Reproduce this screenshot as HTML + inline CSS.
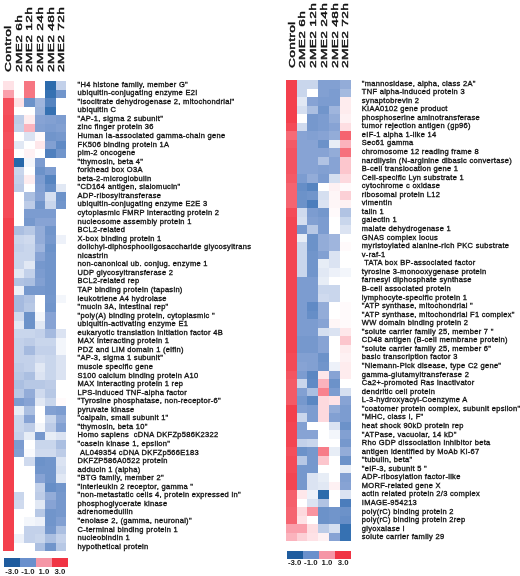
<!DOCTYPE html>
<html><head><meta charset="utf-8"><title>Heatmap</title><style>
html,body{margin:0;padding:0;background:#fff;}
body{width:520px;height:576px;position:relative;overflow:hidden;font-family:"Liberation Sans",Arial,sans-serif;color:#1a1a1a;}
.hd{position:absolute;white-space:nowrap;font-size:9.5px;letter-spacing:0.2px;-webkit-text-stroke:0.4px #111;color:#111;line-height:1;transform-origin:0 0;transform:rotate(-90deg) scaleX(1.45) translateY(-50%);}
.hm{position:absolute;display:block;filter:blur(0.5px);}
.lb{position:absolute;white-space:nowrap;font-weight:normal;font-size:7.5px;letter-spacing:0.3px;line-height:8.55px;color:#111;-webkit-text-stroke:0.33px #111;}
.lg{position:absolute;}
.lt{position:absolute;white-space:nowrap;font-weight:bold;font-size:7.8px;line-height:1;transform:translateX(-50%);}
</style></head>
<body>
<div class="hd" style="left:8.29px;top:71.60px">Control</div>
<div class="hd" style="left:18.86px;top:71.60px">2ME2 6h</div>
<div class="hd" style="left:29.43px;top:71.60px">2ME2 12h</div>
<div class="hd" style="left:40.00px;top:71.60px">2ME2 24h</div>
<div class="hd" style="left:50.56px;top:71.60px">2ME2 48h</div>
<div class="hd" style="left:61.14px;top:71.60px">2ME2 72h</div>
<svg class="hm" style="left:3.0px;top:80.7px" width="63.42" height="470.52" viewBox="0 0 63.42 470.52" shape-rendering="crispEdges"><rect x="0.00" y="0.00" width="10.87" height="8.86" fill="#fee2e6"/><rect x="10.57" y="0.00" width="10.87" height="8.86" fill="#ffffff"/><rect x="21.14" y="0.00" width="10.87" height="8.86" fill="#f67682"/><rect x="31.71" y="0.00" width="10.87" height="8.86" fill="#ffffff"/><rect x="42.28" y="0.00" width="10.87" height="8.86" fill="#2c6bac"/><rect x="52.85" y="0.00" width="10.87" height="8.86" fill="#c3d1ea"/><rect x="0.00" y="8.55" width="10.87" height="8.86" fill="#faa0ac"/><rect x="10.57" y="8.55" width="10.87" height="8.86" fill="#ffffff"/><rect x="21.14" y="8.55" width="10.87" height="8.86" fill="#f67682"/><rect x="31.71" y="8.55" width="10.87" height="8.86" fill="#ffffff"/><rect x="42.28" y="8.55" width="10.87" height="8.86" fill="#3671b2"/><rect x="52.85" y="8.55" width="10.87" height="8.86" fill="#7195cb"/><rect x="0.00" y="17.11" width="10.87" height="8.86" fill="#f44f5c"/><rect x="10.57" y="17.11" width="10.87" height="8.86" fill="#fee2e6"/><rect x="21.14" y="17.11" width="10.87" height="8.86" fill="#6c92c9"/><rect x="31.71" y="17.11" width="10.87" height="8.86" fill="#9fb5dd"/><rect x="42.28" y="17.11" width="10.87" height="8.86" fill="#5684c0"/><rect x="52.85" y="17.11" width="10.87" height="8.86" fill="#ffffff"/><rect x="0.00" y="25.66" width="10.87" height="8.86" fill="#f44f5c"/><rect x="10.57" y="25.66" width="10.87" height="8.86" fill="#ffffff"/><rect x="21.14" y="25.66" width="10.87" height="8.86" fill="#ffffff"/><rect x="31.71" y="25.66" width="10.87" height="8.86" fill="#99b1da"/><rect x="42.28" y="25.66" width="10.87" height="8.86" fill="#3671b2"/><rect x="52.85" y="25.66" width="10.87" height="8.86" fill="#ffffff"/><rect x="0.00" y="34.22" width="10.87" height="8.86" fill="#f44a57"/><rect x="10.57" y="34.22" width="10.87" height="8.86" fill="#bdcce7"/><rect x="21.14" y="34.22" width="10.87" height="8.86" fill="#feecee"/><rect x="31.71" y="34.22" width="10.87" height="8.86" fill="#87a3d4"/><rect x="42.28" y="34.22" width="10.87" height="8.86" fill="#82a0d2"/><rect x="52.85" y="34.22" width="10.87" height="8.86" fill="#7c9cd0"/><rect x="0.00" y="42.77" width="10.87" height="8.86" fill="#f44a57"/><rect x="10.57" y="42.77" width="10.87" height="8.86" fill="#c3d1ea"/><rect x="21.14" y="42.77" width="10.87" height="8.86" fill="#fbb3bd"/><rect x="31.71" y="42.77" width="10.87" height="8.86" fill="#82a0d2"/><rect x="42.28" y="42.77" width="10.87" height="8.86" fill="#7c9cd0"/><rect x="52.85" y="42.77" width="10.87" height="8.86" fill="#82a0d2"/><rect x="0.00" y="51.33" width="10.87" height="8.86" fill="#f44f5c"/><rect x="10.57" y="51.33" width="10.87" height="8.86" fill="#ffffff"/><rect x="21.14" y="51.33" width="10.87" height="8.86" fill="#dbe3f2"/><rect x="31.71" y="51.33" width="10.87" height="8.86" fill="#fffafb"/><rect x="42.28" y="51.33" width="10.87" height="8.86" fill="#7195cb"/><rect x="52.85" y="51.33" width="10.87" height="8.86" fill="#7698cd"/><rect x="0.00" y="59.88" width="10.87" height="8.86" fill="#f44f5c"/><rect x="10.57" y="59.88" width="10.87" height="8.86" fill="#e1e8f4"/><rect x="21.14" y="59.88" width="10.87" height="8.86" fill="#ffffff"/><rect x="31.71" y="59.88" width="10.87" height="8.86" fill="#fee7ea"/><rect x="42.28" y="59.88" width="10.87" height="8.86" fill="#82a0d2"/><rect x="52.85" y="59.88" width="10.87" height="8.86" fill="#608ac5"/><rect x="0.00" y="68.44" width="10.87" height="8.86" fill="#f44a57"/><rect x="10.57" y="68.44" width="10.87" height="8.86" fill="#ffffff"/><rect x="21.14" y="68.44" width="10.87" height="8.86" fill="#fef1f3"/><rect x="31.71" y="68.44" width="10.87" height="8.86" fill="#ffffff"/><rect x="42.28" y="68.44" width="10.87" height="8.86" fill="#5080be"/><rect x="52.85" y="68.44" width="10.87" height="8.86" fill="#7195cb"/><rect x="0.00" y="77.00" width="10.87" height="8.86" fill="#f44a57"/><rect x="10.57" y="77.00" width="10.87" height="8.86" fill="#2668aa"/><rect x="21.14" y="77.00" width="10.87" height="8.86" fill="#f3f6fb"/><rect x="31.71" y="77.00" width="10.87" height="8.86" fill="#7c9cd0"/><rect x="42.28" y="77.00" width="10.87" height="8.86" fill="#ffffff"/><rect x="52.85" y="77.00" width="10.87" height="8.86" fill="#ffffff"/><rect x="0.00" y="85.55" width="10.87" height="8.86" fill="#f44a57"/><rect x="10.57" y="85.55" width="10.87" height="8.86" fill="#c9d6ec"/><rect x="21.14" y="85.55" width="10.87" height="8.86" fill="#ffffff"/><rect x="31.71" y="85.55" width="10.87" height="8.86" fill="#6c92c9"/><rect x="42.28" y="85.55" width="10.87" height="8.86" fill="#7c9cd0"/><rect x="52.85" y="85.55" width="10.87" height="8.86" fill="#ffffff"/><rect x="0.00" y="94.10" width="10.87" height="8.86" fill="#f44a57"/><rect x="10.57" y="94.10" width="10.87" height="8.86" fill="#c3d1ea"/><rect x="21.14" y="94.10" width="10.87" height="8.86" fill="#feecee"/><rect x="31.71" y="94.10" width="10.87" height="8.86" fill="#7c9cd0"/><rect x="42.28" y="94.10" width="10.87" height="8.86" fill="#5684c0"/><rect x="52.85" y="94.10" width="10.87" height="8.86" fill="#ffffff"/><rect x="0.00" y="102.66" width="10.87" height="8.86" fill="#f44a57"/><rect x="10.57" y="102.66" width="10.87" height="8.86" fill="#bdcce7"/><rect x="21.14" y="102.66" width="10.87" height="8.86" fill="#ffffff"/><rect x="31.71" y="102.66" width="10.87" height="8.86" fill="#82a0d2"/><rect x="42.28" y="102.66" width="10.87" height="8.86" fill="#668ec7"/><rect x="52.85" y="102.66" width="10.87" height="8.86" fill="#e1e8f4"/><rect x="0.00" y="111.22" width="10.87" height="8.86" fill="#f44a57"/><rect x="10.57" y="111.22" width="10.87" height="8.86" fill="#ffffff"/><rect x="21.14" y="111.22" width="10.87" height="8.86" fill="#abbfe1"/><rect x="31.71" y="111.22" width="10.87" height="8.86" fill="#87a3d4"/><rect x="42.28" y="111.22" width="10.87" height="8.86" fill="#d5dff0"/><rect x="52.85" y="111.22" width="10.87" height="8.86" fill="#6c92c9"/><rect x="0.00" y="119.77" width="10.87" height="8.86" fill="#f44a57"/><rect x="10.57" y="119.77" width="10.87" height="8.86" fill="#ffffff"/><rect x="21.14" y="119.77" width="10.87" height="8.86" fill="#bdcce7"/><rect x="31.71" y="119.77" width="10.87" height="8.86" fill="#7195cb"/><rect x="42.28" y="119.77" width="10.87" height="8.86" fill="#c9d6ec"/><rect x="52.85" y="119.77" width="10.87" height="8.86" fill="#7195cb"/><rect x="0.00" y="128.32" width="10.87" height="8.86" fill="#f44a57"/><rect x="10.57" y="128.32" width="10.87" height="8.86" fill="#ffffff"/><rect x="21.14" y="128.32" width="10.87" height="8.86" fill="#7c9cd0"/><rect x="31.71" y="128.32" width="10.87" height="8.86" fill="#7c9cd0"/><rect x="42.28" y="128.32" width="10.87" height="8.86" fill="#7c9cd0"/><rect x="52.85" y="128.32" width="10.87" height="8.86" fill="#ffffff"/><rect x="0.00" y="136.88" width="10.87" height="8.86" fill="#f3404d"/><rect x="10.57" y="136.88" width="10.87" height="8.86" fill="#ffffff"/><rect x="21.14" y="136.88" width="10.87" height="8.86" fill="#7698cd"/><rect x="31.71" y="136.88" width="10.87" height="8.86" fill="#87a3d4"/><rect x="42.28" y="136.88" width="10.87" height="8.86" fill="#87a3d4"/><rect x="52.85" y="136.88" width="10.87" height="8.86" fill="#ffffff"/><rect x="0.00" y="145.44" width="10.87" height="8.86" fill="#f3404d"/><rect x="10.57" y="145.44" width="10.87" height="8.86" fill="#abbfe1"/><rect x="21.14" y="145.44" width="10.87" height="8.86" fill="#b7c8e5"/><rect x="31.71" y="145.44" width="10.87" height="8.86" fill="#93acd8"/><rect x="42.28" y="145.44" width="10.87" height="8.86" fill="#7195cb"/><rect x="52.85" y="145.44" width="10.87" height="8.86" fill="#ffffff"/><rect x="0.00" y="153.99" width="10.87" height="8.86" fill="#f3404d"/><rect x="10.57" y="153.99" width="10.87" height="8.86" fill="#c9d6ec"/><rect x="21.14" y="153.99" width="10.87" height="8.86" fill="#cfdaee"/><rect x="31.71" y="153.99" width="10.87" height="8.86" fill="#93acd8"/><rect x="42.28" y="153.99" width="10.87" height="8.86" fill="#7698cd"/><rect x="52.85" y="153.99" width="10.87" height="8.86" fill="#edf1f9"/><rect x="0.00" y="162.54" width="10.87" height="8.86" fill="#f3404d"/><rect x="10.57" y="162.54" width="10.87" height="8.86" fill="#c3d1ea"/><rect x="21.14" y="162.54" width="10.87" height="8.86" fill="#c9d6ec"/><rect x="31.71" y="162.54" width="10.87" height="8.86" fill="#9fb5dd"/><rect x="42.28" y="162.54" width="10.87" height="8.86" fill="#6c92c9"/><rect x="52.85" y="162.54" width="10.87" height="8.86" fill="#ffffff"/><rect x="0.00" y="171.10" width="10.87" height="8.86" fill="#f3404d"/><rect x="10.57" y="171.10" width="10.87" height="8.86" fill="#c9d6ec"/><rect x="21.14" y="171.10" width="10.87" height="8.86" fill="#c9d6ec"/><rect x="31.71" y="171.10" width="10.87" height="8.86" fill="#87a3d4"/><rect x="42.28" y="171.10" width="10.87" height="8.86" fill="#7195cb"/><rect x="52.85" y="171.10" width="10.87" height="8.86" fill="#ffffff"/><rect x="0.00" y="179.66" width="10.87" height="8.86" fill="#f3404d"/><rect x="10.57" y="179.66" width="10.87" height="8.86" fill="#c9d6ec"/><rect x="21.14" y="179.66" width="10.87" height="8.86" fill="#e1e8f4"/><rect x="31.71" y="179.66" width="10.87" height="8.86" fill="#7698cd"/><rect x="42.28" y="179.66" width="10.87" height="8.86" fill="#7195cb"/><rect x="52.85" y="179.66" width="10.87" height="8.86" fill="#ffffff"/><rect x="0.00" y="188.21" width="10.87" height="8.86" fill="#f3404d"/><rect x="10.57" y="188.21" width="10.87" height="8.86" fill="#e1e8f4"/><rect x="21.14" y="188.21" width="10.87" height="8.86" fill="#c3d1ea"/><rect x="31.71" y="188.21" width="10.87" height="8.86" fill="#7c9cd0"/><rect x="42.28" y="188.21" width="10.87" height="8.86" fill="#7195cb"/><rect x="52.85" y="188.21" width="10.87" height="8.86" fill="#ffffff"/><rect x="0.00" y="196.76" width="10.87" height="8.86" fill="#f3404d"/><rect x="10.57" y="196.76" width="10.87" height="8.86" fill="#b1c3e3"/><rect x="21.14" y="196.76" width="10.87" height="8.86" fill="#abbfe1"/><rect x="31.71" y="196.76" width="10.87" height="8.86" fill="#82a0d2"/><rect x="42.28" y="196.76" width="10.87" height="8.86" fill="#7195cb"/><rect x="52.85" y="196.76" width="10.87" height="8.86" fill="#ffffff"/><rect x="0.00" y="205.32" width="10.87" height="8.86" fill="#f3404d"/><rect x="10.57" y="205.32" width="10.87" height="8.86" fill="#edf1f9"/><rect x="21.14" y="205.32" width="10.87" height="8.86" fill="#7698cd"/><rect x="31.71" y="205.32" width="10.87" height="8.86" fill="#7698cd"/><rect x="42.28" y="205.32" width="10.87" height="8.86" fill="#7195cb"/><rect x="52.85" y="205.32" width="10.87" height="8.86" fill="#ffffff"/><rect x="0.00" y="213.88" width="10.87" height="8.86" fill="#f3404d"/><rect x="10.57" y="213.88" width="10.87" height="8.86" fill="#a5badf"/><rect x="21.14" y="213.88" width="10.87" height="8.86" fill="#b1c3e3"/><rect x="31.71" y="213.88" width="10.87" height="8.86" fill="#ffffff"/><rect x="42.28" y="213.88" width="10.87" height="8.86" fill="#7497cc"/><rect x="52.85" y="213.88" width="10.87" height="8.86" fill="#f3f6fb"/><rect x="0.00" y="222.43" width="10.87" height="8.86" fill="#f3404d"/><rect x="10.57" y="222.43" width="10.87" height="8.86" fill="#a5badf"/><rect x="21.14" y="222.43" width="10.87" height="8.86" fill="#b7c8e5"/><rect x="31.71" y="222.43" width="10.87" height="8.86" fill="#ffffff"/><rect x="42.28" y="222.43" width="10.87" height="8.86" fill="#7195cb"/><rect x="52.85" y="222.43" width="10.87" height="8.86" fill="#ffffff"/><rect x="0.00" y="230.98" width="10.87" height="8.86" fill="#f3404d"/><rect x="10.57" y="230.98" width="10.87" height="8.86" fill="#cfdaee"/><rect x="21.14" y="230.98" width="10.87" height="8.86" fill="#6c92c9"/><rect x="31.71" y="230.98" width="10.87" height="8.86" fill="#f3f6fb"/><rect x="42.28" y="230.98" width="10.87" height="8.86" fill="#87a3d4"/><rect x="52.85" y="230.98" width="10.87" height="8.86" fill="#ffffff"/><rect x="0.00" y="239.54" width="10.87" height="8.86" fill="#f3404d"/><rect x="10.57" y="239.54" width="10.87" height="8.86" fill="#e1e8f4"/><rect x="21.14" y="239.54" width="10.87" height="8.86" fill="#6c92c9"/><rect x="31.71" y="239.54" width="10.87" height="8.86" fill="#e1e8f4"/><rect x="42.28" y="239.54" width="10.87" height="8.86" fill="#87a3d4"/><rect x="52.85" y="239.54" width="10.87" height="8.86" fill="#ffffff"/><rect x="0.00" y="248.09" width="10.87" height="8.86" fill="#f3404d"/><rect x="10.57" y="248.09" width="10.87" height="8.86" fill="#c9d6ec"/><rect x="21.14" y="248.09" width="10.87" height="8.86" fill="#c9d6ec"/><rect x="31.71" y="248.09" width="10.87" height="8.86" fill="#c3d1ea"/><rect x="42.28" y="248.09" width="10.87" height="8.86" fill="#a5badf"/><rect x="52.85" y="248.09" width="10.87" height="8.86" fill="#dbe3f2"/><rect x="0.00" y="256.65" width="10.87" height="8.86" fill="#f3404d"/><rect x="10.57" y="256.65" width="10.87" height="8.86" fill="#c3d1ea"/><rect x="21.14" y="256.65" width="10.87" height="8.86" fill="#bdcce7"/><rect x="31.71" y="256.65" width="10.87" height="8.86" fill="#c9d6ec"/><rect x="42.28" y="256.65" width="10.87" height="8.86" fill="#c9d6ec"/><rect x="52.85" y="256.65" width="10.87" height="8.86" fill="#f3f6fb"/><rect x="0.00" y="265.20" width="10.87" height="8.86" fill="#f3404d"/><rect x="10.57" y="265.20" width="10.87" height="8.86" fill="#c3d1ea"/><rect x="21.14" y="265.20" width="10.87" height="8.86" fill="#a5badf"/><rect x="31.71" y="265.20" width="10.87" height="8.86" fill="#c3d1ea"/><rect x="42.28" y="265.20" width="10.87" height="8.86" fill="#c3d1ea"/><rect x="52.85" y="265.20" width="10.87" height="8.86" fill="#f3f6fb"/><rect x="0.00" y="273.76" width="10.87" height="8.86" fill="#f3404d"/><rect x="10.57" y="273.76" width="10.87" height="8.86" fill="#c3d1ea"/><rect x="21.14" y="273.76" width="10.87" height="8.86" fill="#c3d1ea"/><rect x="31.71" y="273.76" width="10.87" height="8.86" fill="#cfdaee"/><rect x="42.28" y="273.76" width="10.87" height="8.86" fill="#c9d6ec"/><rect x="52.85" y="273.76" width="10.87" height="8.86" fill="#dbe3f2"/><rect x="0.00" y="282.31" width="10.87" height="8.86" fill="#f3404d"/><rect x="10.57" y="282.31" width="10.87" height="8.86" fill="#bdcce7"/><rect x="21.14" y="282.31" width="10.87" height="8.86" fill="#c3d1ea"/><rect x="31.71" y="282.31" width="10.87" height="8.86" fill="#e1e8f4"/><rect x="42.28" y="282.31" width="10.87" height="8.86" fill="#c9d6ec"/><rect x="52.85" y="282.31" width="10.87" height="8.86" fill="#dbe3f2"/><rect x="0.00" y="290.87" width="10.87" height="8.86" fill="#f3404d"/><rect x="10.57" y="290.87" width="10.87" height="8.86" fill="#b7c8e5"/><rect x="21.14" y="290.87" width="10.87" height="8.86" fill="#abbfe1"/><rect x="31.71" y="290.87" width="10.87" height="8.86" fill="#dbe3f2"/><rect x="42.28" y="290.87" width="10.87" height="8.86" fill="#c9d6ec"/><rect x="52.85" y="290.87" width="10.87" height="8.86" fill="#dbe3f2"/><rect x="0.00" y="299.43" width="10.87" height="8.86" fill="#f3404d"/><rect x="10.57" y="299.43" width="10.87" height="8.86" fill="#abbfe1"/><rect x="21.14" y="299.43" width="10.87" height="8.86" fill="#b7c8e5"/><rect x="31.71" y="299.43" width="10.87" height="8.86" fill="#b7c8e5"/><rect x="42.28" y="299.43" width="10.87" height="8.86" fill="#bdcce7"/><rect x="52.85" y="299.43" width="10.87" height="8.86" fill="#ffffff"/><rect x="0.00" y="307.98" width="10.87" height="8.86" fill="#f3404d"/><rect x="10.57" y="307.98" width="10.87" height="8.86" fill="#b7c8e5"/><rect x="21.14" y="307.98" width="10.87" height="8.86" fill="#93acd8"/><rect x="31.71" y="307.98" width="10.87" height="8.86" fill="#cfdaee"/><rect x="42.28" y="307.98" width="10.87" height="8.86" fill="#b7c8e5"/><rect x="52.85" y="307.98" width="10.87" height="8.86" fill="#ffffff"/><rect x="0.00" y="316.53" width="10.87" height="8.86" fill="#f3404d"/><rect x="10.57" y="316.53" width="10.87" height="8.86" fill="#7c9cd0"/><rect x="21.14" y="316.53" width="10.87" height="8.86" fill="#87a3d4"/><rect x="31.71" y="316.53" width="10.87" height="8.86" fill="#e1e8f4"/><rect x="42.28" y="316.53" width="10.87" height="8.86" fill="#c9d6ec"/><rect x="52.85" y="316.53" width="10.87" height="8.86" fill="#fffafb"/><rect x="0.00" y="325.09" width="10.87" height="8.86" fill="#f3404d"/><rect x="10.57" y="325.09" width="10.87" height="8.86" fill="#e7edf6"/><rect x="21.14" y="325.09" width="10.87" height="8.86" fill="#abbfe1"/><rect x="31.71" y="325.09" width="10.87" height="8.86" fill="#ffffff"/><rect x="42.28" y="325.09" width="10.87" height="8.86" fill="#82a0d2"/><rect x="52.85" y="325.09" width="10.87" height="8.86" fill="#7c9cd0"/><rect x="0.00" y="333.64" width="10.87" height="8.86" fill="#f3404d"/><rect x="10.57" y="333.64" width="10.87" height="8.86" fill="#c9d6ec"/><rect x="21.14" y="333.64" width="10.87" height="8.86" fill="#87a3d4"/><rect x="31.71" y="333.64" width="10.87" height="8.86" fill="#ffffff"/><rect x="42.28" y="333.64" width="10.87" height="8.86" fill="#c9d6ec"/><rect x="52.85" y="333.64" width="10.87" height="8.86" fill="#93acd8"/><rect x="0.00" y="342.20" width="10.87" height="8.86" fill="#f3404d"/><rect x="10.57" y="342.20" width="10.87" height="8.86" fill="#c9d6ec"/><rect x="21.14" y="342.20" width="10.87" height="8.86" fill="#bdcce7"/><rect x="31.71" y="342.20" width="10.87" height="8.86" fill="#f3f6fb"/><rect x="42.28" y="342.20" width="10.87" height="8.86" fill="#bdcce7"/><rect x="52.85" y="342.20" width="10.87" height="8.86" fill="#82a0d2"/><rect x="0.00" y="350.75" width="10.87" height="8.86" fill="#f3404d"/><rect x="10.57" y="350.75" width="10.87" height="8.86" fill="#c3d1ea"/><rect x="21.14" y="350.75" width="10.87" height="8.86" fill="#e7edf6"/><rect x="31.71" y="350.75" width="10.87" height="8.86" fill="#7698cd"/><rect x="42.28" y="350.75" width="10.87" height="8.86" fill="#e7edf6"/><rect x="52.85" y="350.75" width="10.87" height="8.86" fill="#dbe3f2"/><rect x="0.00" y="359.31" width="10.87" height="8.86" fill="#f3404d"/><rect x="10.57" y="359.31" width="10.87" height="8.86" fill="#7c9cd0"/><rect x="21.14" y="359.31" width="10.87" height="8.86" fill="#ffffff"/><rect x="31.71" y="359.31" width="10.87" height="8.86" fill="#c9d6ec"/><rect x="42.28" y="359.31" width="10.87" height="8.86" fill="#c9d6ec"/><rect x="52.85" y="359.31" width="10.87" height="8.86" fill="#abbfe1"/><rect x="0.00" y="367.87" width="10.87" height="8.86" fill="#f3404d"/><rect x="10.57" y="367.87" width="10.87" height="8.86" fill="#82a0d2"/><rect x="21.14" y="367.87" width="10.87" height="8.86" fill="#f9fafd"/><rect x="31.71" y="367.87" width="10.87" height="8.86" fill="#cfdaee"/><rect x="42.28" y="367.87" width="10.87" height="8.86" fill="#cfdaee"/><rect x="52.85" y="367.87" width="10.87" height="8.86" fill="#bdcce7"/><rect x="0.00" y="376.42" width="10.87" height="8.86" fill="#f3404d"/><rect x="10.57" y="376.42" width="10.87" height="8.86" fill="#ffffff"/><rect x="21.14" y="376.42" width="10.87" height="8.86" fill="#cfdaee"/><rect x="31.71" y="376.42" width="10.87" height="8.86" fill="#6c92c9"/><rect x="42.28" y="376.42" width="10.87" height="8.86" fill="#7195cb"/><rect x="52.85" y="376.42" width="10.87" height="8.86" fill="#dbe3f2"/><rect x="0.00" y="384.97" width="10.87" height="8.86" fill="#f3404d"/><rect x="10.57" y="384.97" width="10.87" height="8.86" fill="#ffffff"/><rect x="21.14" y="384.97" width="10.87" height="8.86" fill="#ffffff"/><rect x="31.71" y="384.97" width="10.87" height="8.86" fill="#7195cb"/><rect x="42.28" y="384.97" width="10.87" height="8.86" fill="#7195cb"/><rect x="52.85" y="384.97" width="10.87" height="8.86" fill="#d5dff0"/><rect x="0.00" y="393.53" width="10.87" height="8.86" fill="#f3404d"/><rect x="10.57" y="393.53" width="10.87" height="8.86" fill="#ffffff"/><rect x="21.14" y="393.53" width="10.87" height="8.86" fill="#ffffff"/><rect x="31.71" y="393.53" width="10.87" height="8.86" fill="#87a3d4"/><rect x="42.28" y="393.53" width="10.87" height="8.86" fill="#7195cb"/><rect x="52.85" y="393.53" width="10.87" height="8.86" fill="#e1e8f4"/><rect x="0.00" y="402.08" width="10.87" height="8.86" fill="#f3404d"/><rect x="10.57" y="402.08" width="10.87" height="8.86" fill="#ffffff"/><rect x="21.14" y="402.08" width="10.87" height="8.86" fill="#ffffff"/><rect x="31.71" y="402.08" width="10.87" height="8.86" fill="#c3d1ea"/><rect x="42.28" y="402.08" width="10.87" height="8.86" fill="#668ec7"/><rect x="52.85" y="402.08" width="10.87" height="8.86" fill="#7195cb"/><rect x="0.00" y="410.64" width="10.87" height="8.86" fill="#f3404d"/><rect x="10.57" y="410.64" width="10.87" height="8.86" fill="#c9d6ec"/><rect x="21.14" y="410.64" width="10.87" height="8.86" fill="#ffffff"/><rect x="31.71" y="410.64" width="10.87" height="8.86" fill="#bdcce7"/><rect x="42.28" y="410.64" width="10.87" height="8.86" fill="#93acd8"/><rect x="52.85" y="410.64" width="10.87" height="8.86" fill="#7698cd"/><rect x="0.00" y="419.19" width="10.87" height="8.86" fill="#f3404d"/><rect x="10.57" y="419.19" width="10.87" height="8.86" fill="#cfdaee"/><rect x="21.14" y="419.19" width="10.87" height="8.86" fill="#ffffff"/><rect x="31.71" y="419.19" width="10.87" height="8.86" fill="#e1e8f4"/><rect x="42.28" y="419.19" width="10.87" height="8.86" fill="#87a3d4"/><rect x="52.85" y="419.19" width="10.87" height="8.86" fill="#7698cd"/><rect x="0.00" y="427.75" width="10.87" height="8.86" fill="#f3404d"/><rect x="10.57" y="427.75" width="10.87" height="8.86" fill="#ffffff"/><rect x="21.14" y="427.75" width="10.87" height="8.86" fill="#ffffff"/><rect x="31.71" y="427.75" width="10.87" height="8.86" fill="#b7c8e5"/><rect x="42.28" y="427.75" width="10.87" height="8.86" fill="#7195cb"/><rect x="52.85" y="427.75" width="10.87" height="8.86" fill="#7698cd"/><rect x="0.00" y="436.31" width="10.87" height="8.86" fill="#f3404d"/><rect x="10.57" y="436.31" width="10.87" height="8.86" fill="#ffffff"/><rect x="21.14" y="436.31" width="10.87" height="8.86" fill="#f3f6fb"/><rect x="31.71" y="436.31" width="10.87" height="8.86" fill="#edf1f9"/><rect x="42.28" y="436.31" width="10.87" height="8.86" fill="#7195cb"/><rect x="52.85" y="436.31" width="10.87" height="8.86" fill="#82a0d2"/><rect x="0.00" y="444.86" width="10.87" height="8.86" fill="#f3404d"/><rect x="10.57" y="444.86" width="10.87" height="8.86" fill="#ffffff"/><rect x="21.14" y="444.86" width="10.87" height="8.86" fill="#c3d1ea"/><rect x="31.71" y="444.86" width="10.87" height="8.86" fill="#c3d1ea"/><rect x="42.28" y="444.86" width="10.87" height="8.86" fill="#7698cd"/><rect x="52.85" y="444.86" width="10.87" height="8.86" fill="#abbfe1"/><rect x="0.00" y="453.41" width="10.87" height="8.86" fill="#f3404d"/><rect x="10.57" y="453.41" width="10.87" height="8.86" fill="#edf1f9"/><rect x="21.14" y="453.41" width="10.87" height="8.86" fill="#c3d1ea"/><rect x="31.71" y="453.41" width="10.87" height="8.86" fill="#c9d6ec"/><rect x="42.28" y="453.41" width="10.87" height="8.86" fill="#abbfe1"/><rect x="52.85" y="453.41" width="10.87" height="8.86" fill="#c3d1ea"/><rect x="0.00" y="461.97" width="10.87" height="8.86" fill="#f3404d"/><rect x="10.57" y="461.97" width="10.87" height="8.86" fill="#ffffff"/><rect x="21.14" y="461.97" width="10.87" height="8.86" fill="#ffffff"/><rect x="31.71" y="461.97" width="10.87" height="8.86" fill="#abbfe1"/><rect x="42.28" y="461.97" width="10.87" height="8.86" fill="#7195cb"/><rect x="52.85" y="461.97" width="10.87" height="8.86" fill="#b7c8e5"/></svg>
<div class="lb" style="left:77.5px;top:80.70px">"H4 histone family, member G"</div>
<div class="lb" style="left:77.5px;top:89.25px">ubiquitin-conjugating enzyme E2I</div>
<div class="lb" style="left:77.5px;top:97.81px">"isocitrate dehydrogenase 2, mitochondrial"</div>
<div class="lb" style="left:77.5px;top:106.37px">ubiquitin C</div>
<div class="lb" style="left:77.5px;top:114.92px">"AP-1, sigma 2 subunit"</div>
<div class="lb" style="left:77.5px;top:123.47px">zinc finger protein 36</div>
<div class="lb" style="left:77.5px;top:132.03px">Human Ia-associated gamma-chain gene</div>
<div class="lb" style="left:77.5px;top:140.59px">FK506 binding protein 1A</div>
<div class="lb" style="left:77.5px;top:149.14px">pim-2 oncogene</div>
<div class="lb" style="left:77.5px;top:157.69px">"thymosin, beta 4"</div>
<div class="lb" style="left:77.5px;top:166.25px">forkhead box O3A</div>
<div class="lb" style="left:77.5px;top:174.81px">beta-2-microglobulin</div>
<div class="lb" style="left:77.5px;top:183.36px">"CD164 antigen, sialomucin"</div>
<div class="lb" style="left:77.5px;top:191.92px">ADP-ribosyltransferase</div>
<div class="lb" style="left:77.5px;top:200.47px">ubiquitin-conjugating enzyme E2E 3</div>
<div class="lb" style="left:77.5px;top:209.02px">cytoplasmic FMRP interacting protein 2</div>
<div class="lb" style="left:77.5px;top:217.58px">nucleosome assembly protein 1</div>
<div class="lb" style="left:77.5px;top:226.13px">BCL2-related</div>
<div class="lb" style="left:77.5px;top:234.69px">X-box binding protein 1</div>
<div class="lb" style="left:77.5px;top:243.25px">dolichyl-diphosphooligosaccharide glycosyltrans</div>
<div class="lb" style="left:77.5px;top:251.80px">nicastrin</div>
<div class="lb" style="left:77.5px;top:260.36px">non-canonical ub. conjug. enzyme 1</div>
<div class="lb" style="left:77.5px;top:268.91px">UDP glycosyltransferase 2</div>
<div class="lb" style="left:77.5px;top:277.46px">BCL2-related rep</div>
<div class="lb" style="left:77.5px;top:286.02px">TAP binding protein (tapasin)</div>
<div class="lb" style="left:77.5px;top:294.57px">leukotriene A4 hydrolase</div>
<div class="lb" style="left:77.5px;top:303.13px">"mucin 3A, intestinal rep"</div>
<div class="lb" style="left:77.5px;top:311.69px">"poly(A) binding protein, cytoplasmic "</div>
<div class="lb" style="left:77.5px;top:320.24px">ubiquitin-activating enzyme E1</div>
<div class="lb" style="left:77.5px;top:328.80px">eukaryotic translation initiation factor 4B</div>
<div class="lb" style="left:77.5px;top:337.35px">MAX interacting protein 1</div>
<div class="lb" style="left:77.5px;top:345.90px">PDZ and LIM domain 1 (elfin)</div>
<div class="lb" style="left:77.5px;top:354.46px">"AP-3, sigma 1 subunit"</div>
<div class="lb" style="left:77.5px;top:363.01px">muscle specific gene</div>
<div class="lb" style="left:77.5px;top:371.57px">S100 calcium binding protein A10</div>
<div class="lb" style="left:77.5px;top:380.12px">MAX interacting protein 1 rep</div>
<div class="lb" style="left:77.5px;top:388.68px">LPS-induced TNF-alpha factor</div>
<div class="lb" style="left:77.5px;top:397.23px">"Tyrosine phosphatase, non-receptor-6"</div>
<div class="lb" style="left:77.5px;top:405.79px">pyruvate kinase</div>
<div class="lb" style="left:77.5px;top:414.34px">"calpain, small subunit 1"</div>
<div class="lb" style="left:77.5px;top:422.90px">"thymosin, beta 10"</div>
<div class="lb" style="left:77.5px;top:431.45px">Homo sapiens &nbsp;cDNA DKFZp586K2322</div>
<div class="lb" style="left:77.5px;top:440.01px">"casein kinase 1, epsilon"</div>
<div class="lb" style="left:77.5px;top:448.56px">&nbsp;AL049354 cDNA DKFZp566E183</div>
<div class="lb" style="left:77.5px;top:457.12px">DKFZP586A0522 protein</div>
<div class="lb" style="left:77.5px;top:465.67px">adducin 1 (alpha)</div>
<div class="lb" style="left:77.5px;top:474.23px">"BTG family, member 2"</div>
<div class="lb" style="left:77.5px;top:482.78px">"interleukin 2 receptor, gamma "</div>
<div class="lb" style="left:77.5px;top:491.34px">"non-metastatic cells 4, protein expressed in"</div>
<div class="lb" style="left:77.5px;top:499.89px">phosphoglycerate kinase</div>
<div class="lb" style="left:77.5px;top:508.45px">adrenomedullin</div>
<div class="lb" style="left:77.5px;top:517.00px">"enolase 2, (gamma, neuronal)"</div>
<div class="lb" style="left:77.5px;top:525.56px">C-terminal binding protein 1</div>
<div class="lb" style="left:77.5px;top:534.12px">nucleobindin 1</div>
<div class="lb" style="left:77.5px;top:542.67px">hypothetical protein</div>
<div class="lg" style="left:4.00px;top:558.4px;width:16.15px;height:8.6px;background:#1f5c9e"></div>
<div class="lg" style="left:19.95px;top:558.4px;width:16.15px;height:8.6px;background:#6a90cc"></div>
<div class="lg" style="left:35.90px;top:558.4px;width:16.15px;height:8.6px;background:#f596a6"></div>
<div class="lg" style="left:51.85px;top:558.4px;width:16.15px;height:8.6px;background:#f03444"></div>
<div class="lt" style="left:11.97px;top:567.6px">-3.0</div>
<div class="lt" style="left:27.92px;top:567.6px">-1.0</div>
<div class="lt" style="left:43.88px;top:567.6px">1.0</div>
<div class="lt" style="left:59.82px;top:567.6px">3.0</div>
<div class="hd" style="left:291.67px;top:68.30px">Control</div>
<div class="hd" style="left:302.40px;top:68.30px">2ME2 6h</div>
<div class="hd" style="left:313.12px;top:68.30px">2ME2 12h</div>
<div class="hd" style="left:323.86px;top:68.30px">2ME2 24h</div>
<div class="hd" style="left:334.59px;top:68.30px">2ME2 48h</div>
<div class="hd" style="left:345.32px;top:68.30px">2ME2 72h</div>
<svg class="hm" style="left:286.3px;top:79.5px" width="64.38" height="461.48" viewBox="0 0 64.38 461.48" shape-rendering="crispEdges"><rect x="0.00" y="0.00" width="11.03" height="8.85" fill="#f3404d"/><rect x="10.73" y="0.00" width="11.03" height="8.85" fill="#c9d6ec"/><rect x="21.46" y="0.00" width="11.03" height="8.85" fill="#c9d6ec"/><rect x="32.19" y="0.00" width="11.03" height="8.85" fill="#82a0d2"/><rect x="42.92" y="0.00" width="11.03" height="8.85" fill="#82a0d2"/><rect x="53.65" y="0.00" width="11.03" height="8.85" fill="#93acd8"/><rect x="0.00" y="8.55" width="11.03" height="8.85" fill="#f3404d"/><rect x="10.73" y="8.55" width="11.03" height="8.85" fill="#c9d6ec"/><rect x="21.46" y="8.55" width="11.03" height="8.85" fill="#ffffff"/><rect x="32.19" y="8.55" width="11.03" height="8.85" fill="#82a0d2"/><rect x="42.92" y="8.55" width="11.03" height="8.85" fill="#7c9cd0"/><rect x="53.65" y="8.55" width="11.03" height="8.85" fill="#a5badf"/><rect x="0.00" y="17.09" width="11.03" height="8.85" fill="#f3404d"/><rect x="10.73" y="17.09" width="11.03" height="8.85" fill="#e1e8f4"/><rect x="21.46" y="17.09" width="11.03" height="8.85" fill="#87a3d4"/><rect x="32.19" y="17.09" width="11.03" height="8.85" fill="#7c9cd0"/><rect x="42.92" y="17.09" width="11.03" height="8.85" fill="#7c9cd0"/><rect x="53.65" y="17.09" width="11.03" height="8.85" fill="#feecee"/><rect x="0.00" y="25.64" width="11.03" height="8.85" fill="#f3404d"/><rect x="10.73" y="25.64" width="11.03" height="8.85" fill="#d5dff0"/><rect x="21.46" y="25.64" width="11.03" height="8.85" fill="#abbfe1"/><rect x="32.19" y="25.64" width="11.03" height="8.85" fill="#7195cb"/><rect x="42.92" y="25.64" width="11.03" height="8.85" fill="#9fb5dd"/><rect x="53.65" y="25.64" width="11.03" height="8.85" fill="#feecee"/><rect x="0.00" y="34.18" width="11.03" height="8.85" fill="#f3404d"/><rect x="10.73" y="34.18" width="11.03" height="8.85" fill="#ffffff"/><rect x="21.46" y="34.18" width="11.03" height="8.85" fill="#7698cd"/><rect x="32.19" y="34.18" width="11.03" height="8.85" fill="#7c9cd0"/><rect x="42.92" y="34.18" width="11.03" height="8.85" fill="#93acd8"/><rect x="53.65" y="34.18" width="11.03" height="8.85" fill="#fef1f3"/><rect x="0.00" y="42.73" width="11.03" height="8.85" fill="#f44a57"/><rect x="10.73" y="42.73" width="11.03" height="8.85" fill="#cfdaee"/><rect x="21.46" y="42.73" width="11.03" height="8.85" fill="#7698cd"/><rect x="32.19" y="42.73" width="11.03" height="8.85" fill="#7c9cd0"/><rect x="42.92" y="42.73" width="11.03" height="8.85" fill="#87a3d4"/><rect x="53.65" y="42.73" width="11.03" height="8.85" fill="#fddee2"/><rect x="0.00" y="51.28" width="11.03" height="8.85" fill="#f66a76"/><rect x="10.73" y="51.28" width="11.03" height="8.85" fill="#87a3d4"/><rect x="21.46" y="51.28" width="11.03" height="8.85" fill="#82a0d2"/><rect x="32.19" y="51.28" width="11.03" height="8.85" fill="#87a3d4"/><rect x="42.92" y="51.28" width="11.03" height="8.85" fill="#93acd8"/><rect x="53.65" y="51.28" width="11.03" height="8.85" fill="#f56470"/><rect x="0.00" y="59.82" width="11.03" height="8.85" fill="#f45a66"/><rect x="10.73" y="59.82" width="11.03" height="8.85" fill="#87a3d4"/><rect x="21.46" y="59.82" width="11.03" height="8.85" fill="#87a3d4"/><rect x="32.19" y="59.82" width="11.03" height="8.85" fill="#6c92c9"/><rect x="42.92" y="59.82" width="11.03" height="8.85" fill="#e7edf6"/><rect x="53.65" y="59.82" width="11.03" height="8.85" fill="#fbb3bd"/><rect x="0.00" y="68.37" width="11.03" height="8.85" fill="#f45461"/><rect x="10.73" y="68.37" width="11.03" height="8.85" fill="#87a3d4"/><rect x="21.46" y="68.37" width="11.03" height="8.85" fill="#87a3d4"/><rect x="32.19" y="68.37" width="11.03" height="8.85" fill="#87a3d4"/><rect x="42.92" y="68.37" width="11.03" height="8.85" fill="#93acd8"/><rect x="53.65" y="68.37" width="11.03" height="8.85" fill="#f6707c"/><rect x="0.00" y="76.91" width="11.03" height="8.85" fill="#f45461"/><rect x="10.73" y="76.91" width="11.03" height="8.85" fill="#87a3d4"/><rect x="21.46" y="76.91" width="11.03" height="8.85" fill="#87a3d4"/><rect x="32.19" y="76.91" width="11.03" height="8.85" fill="#b1c3e3"/><rect x="42.92" y="76.91" width="11.03" height="8.85" fill="#87a3d4"/><rect x="53.65" y="76.91" width="11.03" height="8.85" fill="#fcc6cd"/><rect x="0.00" y="85.46" width="11.03" height="8.85" fill="#f45461"/><rect x="10.73" y="85.46" width="11.03" height="8.85" fill="#87a3d4"/><rect x="21.46" y="85.46" width="11.03" height="8.85" fill="#87a3d4"/><rect x="32.19" y="85.46" width="11.03" height="8.85" fill="#82a0d2"/><rect x="42.92" y="85.46" width="11.03" height="8.85" fill="#87a3d4"/><rect x="53.65" y="85.46" width="11.03" height="8.85" fill="#fcc6cd"/><rect x="0.00" y="94.01" width="11.03" height="8.85" fill="#f45a66"/><rect x="10.73" y="94.01" width="11.03" height="8.85" fill="#7c9cd0"/><rect x="21.46" y="94.01" width="11.03" height="8.85" fill="#93acd8"/><rect x="32.19" y="94.01" width="11.03" height="8.85" fill="#7c9cd0"/><rect x="42.92" y="94.01" width="11.03" height="8.85" fill="#d5dff0"/><rect x="53.65" y="94.01" width="11.03" height="8.85" fill="#fdd9de"/><rect x="0.00" y="102.55" width="11.03" height="8.85" fill="#f56470"/><rect x="10.73" y="102.55" width="11.03" height="8.85" fill="#668ec7"/><rect x="21.46" y="102.55" width="11.03" height="8.85" fill="#5684c0"/><rect x="32.19" y="102.55" width="11.03" height="8.85" fill="#ffffff"/><rect x="42.92" y="102.55" width="11.03" height="8.85" fill="#fef1f3"/><rect x="53.65" y="102.55" width="11.03" height="8.85" fill="#fffafb"/><rect x="0.00" y="111.10" width="11.03" height="8.85" fill="#f56470"/><rect x="10.73" y="111.10" width="11.03" height="8.85" fill="#6c92c9"/><rect x="21.46" y="111.10" width="11.03" height="8.85" fill="#7195cb"/><rect x="32.19" y="111.10" width="11.03" height="8.85" fill="#d5dff0"/><rect x="42.92" y="111.10" width="11.03" height="8.85" fill="#fef6f7"/><rect x="53.65" y="111.10" width="11.03" height="8.85" fill="#fcd0d6"/><rect x="0.00" y="119.64" width="11.03" height="8.85" fill="#f56470"/><rect x="10.73" y="119.64" width="11.03" height="8.85" fill="#6c92c9"/><rect x="21.46" y="119.64" width="11.03" height="8.85" fill="#4b7dbc"/><rect x="32.19" y="119.64" width="11.03" height="8.85" fill="#dbe3f2"/><rect x="42.92" y="119.64" width="11.03" height="8.85" fill="#fef6f7"/><rect x="53.65" y="119.64" width="11.03" height="8.85" fill="#fef1f3"/><rect x="0.00" y="128.19" width="11.03" height="8.85" fill="#f44a57"/><rect x="10.73" y="128.19" width="11.03" height="8.85" fill="#cfdaee"/><rect x="21.46" y="128.19" width="11.03" height="8.85" fill="#7c9cd0"/><rect x="32.19" y="128.19" width="11.03" height="8.85" fill="#7497cc"/><rect x="42.92" y="128.19" width="11.03" height="8.85" fill="#fffafb"/><rect x="53.65" y="128.19" width="11.03" height="8.85" fill="#b1c3e3"/><rect x="0.00" y="136.74" width="11.03" height="8.85" fill="#f34552"/><rect x="10.73" y="136.74" width="11.03" height="8.85" fill="#d5dff0"/><rect x="21.46" y="136.74" width="11.03" height="8.85" fill="#82a0d2"/><rect x="32.19" y="136.74" width="11.03" height="8.85" fill="#7c9cd0"/><rect x="42.92" y="136.74" width="11.03" height="8.85" fill="#ffffff"/><rect x="53.65" y="136.74" width="11.03" height="8.85" fill="#c9d6ec"/><rect x="0.00" y="145.28" width="11.03" height="8.85" fill="#f34552"/><rect x="10.73" y="145.28" width="11.03" height="8.85" fill="#7698cd"/><rect x="21.46" y="145.28" width="11.03" height="8.85" fill="#b7c8e5"/><rect x="32.19" y="145.28" width="11.03" height="8.85" fill="#7c9cd0"/><rect x="42.92" y="145.28" width="11.03" height="8.85" fill="#ffffff"/><rect x="53.65" y="145.28" width="11.03" height="8.85" fill="#dbe3f2"/><rect x="0.00" y="153.83" width="11.03" height="8.85" fill="#f34552"/><rect x="10.73" y="153.83" width="11.03" height="8.85" fill="#e7edf6"/><rect x="21.46" y="153.83" width="11.03" height="8.85" fill="#6c92c9"/><rect x="32.19" y="153.83" width="11.03" height="8.85" fill="#93acd8"/><rect x="42.92" y="153.83" width="11.03" height="8.85" fill="#9fb5dd"/><rect x="53.65" y="153.83" width="11.03" height="8.85" fill="#ffffff"/><rect x="0.00" y="162.37" width="11.03" height="8.85" fill="#f34552"/><rect x="10.73" y="162.37" width="11.03" height="8.85" fill="#c9d6ec"/><rect x="21.46" y="162.37" width="11.03" height="8.85" fill="#6c92c9"/><rect x="32.19" y="162.37" width="11.03" height="8.85" fill="#93acd8"/><rect x="42.92" y="162.37" width="11.03" height="8.85" fill="#9fb5dd"/><rect x="53.65" y="162.37" width="11.03" height="8.85" fill="#fffafb"/><rect x="0.00" y="170.92" width="11.03" height="8.85" fill="#f34552"/><rect x="10.73" y="170.92" width="11.03" height="8.85" fill="#c9d6ec"/><rect x="21.46" y="170.92" width="11.03" height="8.85" fill="#7195cb"/><rect x="32.19" y="170.92" width="11.03" height="8.85" fill="#82a0d2"/><rect x="42.92" y="170.92" width="11.03" height="8.85" fill="#dbe3f2"/><rect x="53.65" y="170.92" width="11.03" height="8.85" fill="#ffffff"/><rect x="0.00" y="179.47" width="11.03" height="8.85" fill="#f34552"/><rect x="10.73" y="179.47" width="11.03" height="8.85" fill="#c9d6ec"/><rect x="21.46" y="179.47" width="11.03" height="8.85" fill="#7195cb"/><rect x="32.19" y="179.47" width="11.03" height="8.85" fill="#e7edf6"/><rect x="42.92" y="179.47" width="11.03" height="8.85" fill="#dbe3f2"/><rect x="53.65" y="179.47" width="11.03" height="8.85" fill="#ffffff"/><rect x="0.00" y="188.01" width="11.03" height="8.85" fill="#f34552"/><rect x="10.73" y="188.01" width="11.03" height="8.85" fill="#c9d6ec"/><rect x="21.46" y="188.01" width="11.03" height="8.85" fill="#7195cb"/><rect x="32.19" y="188.01" width="11.03" height="8.85" fill="#e1e8f4"/><rect x="42.92" y="188.01" width="11.03" height="8.85" fill="#edf1f9"/><rect x="53.65" y="188.01" width="11.03" height="8.85" fill="#f3f6fb"/><rect x="0.00" y="196.56" width="11.03" height="8.85" fill="#f34552"/><rect x="10.73" y="196.56" width="11.03" height="8.85" fill="#7c9cd0"/><rect x="21.46" y="196.56" width="11.03" height="8.85" fill="#7c9cd0"/><rect x="32.19" y="196.56" width="11.03" height="8.85" fill="#e7edf6"/><rect x="42.92" y="196.56" width="11.03" height="8.85" fill="#ffffff"/><rect x="53.65" y="196.56" width="11.03" height="8.85" fill="#ffffff"/><rect x="0.00" y="205.10" width="11.03" height="8.85" fill="#f34552"/><rect x="10.73" y="205.10" width="11.03" height="8.85" fill="#7c9cd0"/><rect x="21.46" y="205.10" width="11.03" height="8.85" fill="#7c9cd0"/><rect x="32.19" y="205.10" width="11.03" height="8.85" fill="#c9d6ec"/><rect x="42.92" y="205.10" width="11.03" height="8.85" fill="#c9d6ec"/><rect x="53.65" y="205.10" width="11.03" height="8.85" fill="#ffffff"/><rect x="0.00" y="213.65" width="11.03" height="8.85" fill="#f34552"/><rect x="10.73" y="213.65" width="11.03" height="8.85" fill="#7c9cd0"/><rect x="21.46" y="213.65" width="11.03" height="8.85" fill="#7c9cd0"/><rect x="32.19" y="213.65" width="11.03" height="8.85" fill="#cfdaee"/><rect x="42.92" y="213.65" width="11.03" height="8.85" fill="#c9d6ec"/><rect x="53.65" y="213.65" width="11.03" height="8.85" fill="#ffffff"/><rect x="0.00" y="222.20" width="11.03" height="8.85" fill="#f34552"/><rect x="10.73" y="222.20" width="11.03" height="8.85" fill="#7c9cd0"/><rect x="21.46" y="222.20" width="11.03" height="8.85" fill="#608ac5"/><rect x="32.19" y="222.20" width="11.03" height="8.85" fill="#93acd8"/><rect x="42.92" y="222.20" width="11.03" height="8.85" fill="#ffffff"/><rect x="53.65" y="222.20" width="11.03" height="8.85" fill="#fffafb"/><rect x="0.00" y="230.74" width="11.03" height="8.85" fill="#f34552"/><rect x="10.73" y="230.74" width="11.03" height="8.85" fill="#7c9cd0"/><rect x="21.46" y="230.74" width="11.03" height="8.85" fill="#668ec7"/><rect x="32.19" y="230.74" width="11.03" height="8.85" fill="#93acd8"/><rect x="42.92" y="230.74" width="11.03" height="8.85" fill="#ffffff"/><rect x="53.65" y="230.74" width="11.03" height="8.85" fill="#fffafb"/><rect x="0.00" y="239.29" width="11.03" height="8.85" fill="#f34552"/><rect x="10.73" y="239.29" width="11.03" height="8.85" fill="#7c9cd0"/><rect x="21.46" y="239.29" width="11.03" height="8.85" fill="#7c9cd0"/><rect x="32.19" y="239.29" width="11.03" height="8.85" fill="#87a3d4"/><rect x="42.92" y="239.29" width="11.03" height="8.85" fill="#fef6f7"/><rect x="53.65" y="239.29" width="11.03" height="8.85" fill="#fffafb"/><rect x="0.00" y="247.83" width="11.03" height="8.85" fill="#f34552"/><rect x="10.73" y="247.83" width="11.03" height="8.85" fill="#7c9cd0"/><rect x="21.46" y="247.83" width="11.03" height="8.85" fill="#7c9cd0"/><rect x="32.19" y="247.83" width="11.03" height="8.85" fill="#d5dff0"/><rect x="42.92" y="247.83" width="11.03" height="8.85" fill="#dbe3f2"/><rect x="53.65" y="247.83" width="11.03" height="8.85" fill="#fee7ea"/><rect x="0.00" y="256.38" width="11.03" height="8.85" fill="#f34552"/><rect x="10.73" y="256.38" width="11.03" height="8.85" fill="#7698cd"/><rect x="21.46" y="256.38" width="11.03" height="8.85" fill="#7698cd"/><rect x="32.19" y="256.38" width="11.03" height="8.85" fill="#87a3d4"/><rect x="42.92" y="256.38" width="11.03" height="8.85" fill="#ffffff"/><rect x="53.65" y="256.38" width="11.03" height="8.85" fill="#fcc6cd"/><rect x="0.00" y="264.93" width="11.03" height="8.85" fill="#f34552"/><rect x="10.73" y="264.93" width="11.03" height="8.85" fill="#7698cd"/><rect x="21.46" y="264.93" width="11.03" height="8.85" fill="#7698cd"/><rect x="32.19" y="264.93" width="11.03" height="8.85" fill="#87a3d4"/><rect x="42.92" y="264.93" width="11.03" height="8.85" fill="#ffffff"/><rect x="53.65" y="264.93" width="11.03" height="8.85" fill="#feecee"/><rect x="0.00" y="273.47" width="11.03" height="8.85" fill="#f44a57"/><rect x="10.73" y="273.47" width="11.03" height="8.85" fill="#82a0d2"/><rect x="21.46" y="273.47" width="11.03" height="8.85" fill="#82a0d2"/><rect x="32.19" y="273.47" width="11.03" height="8.85" fill="#6c92c9"/><rect x="42.92" y="273.47" width="11.03" height="8.85" fill="#ffffff"/><rect x="53.65" y="273.47" width="11.03" height="8.85" fill="#fef1f3"/><rect x="0.00" y="282.02" width="11.03" height="8.85" fill="#f44a57"/><rect x="10.73" y="282.02" width="11.03" height="8.85" fill="#87a3d4"/><rect x="21.46" y="282.02" width="11.03" height="8.85" fill="#82a0d2"/><rect x="32.19" y="282.02" width="11.03" height="8.85" fill="#7195cb"/><rect x="42.92" y="282.02" width="11.03" height="8.85" fill="#edf1f9"/><rect x="53.65" y="282.02" width="11.03" height="8.85" fill="#feecee"/><rect x="0.00" y="290.56" width="11.03" height="8.85" fill="#f45461"/><rect x="10.73" y="290.56" width="11.03" height="8.85" fill="#7c9cd0"/><rect x="21.46" y="290.56" width="11.03" height="8.85" fill="#5b87c2"/><rect x="32.19" y="290.56" width="11.03" height="8.85" fill="#fee7ea"/><rect x="42.92" y="290.56" width="11.03" height="8.85" fill="#87a3d4"/><rect x="53.65" y="290.56" width="11.03" height="8.85" fill="#feecee"/><rect x="0.00" y="299.11" width="11.03" height="8.85" fill="#f45a66"/><rect x="10.73" y="299.11" width="11.03" height="8.85" fill="#c9d6ec"/><rect x="21.46" y="299.11" width="11.03" height="8.85" fill="#608ac5"/><rect x="32.19" y="299.11" width="11.03" height="8.85" fill="#fbb3bd"/><rect x="42.92" y="299.11" width="11.03" height="8.85" fill="#6c92c9"/><rect x="53.65" y="299.11" width="11.03" height="8.85" fill="#ffffff"/><rect x="0.00" y="307.66" width="11.03" height="8.85" fill="#f45a66"/><rect x="10.73" y="307.66" width="11.03" height="8.85" fill="#82a0d2"/><rect x="21.46" y="307.66" width="11.03" height="8.85" fill="#abbfe1"/><rect x="32.19" y="307.66" width="11.03" height="8.85" fill="#f8828e"/><rect x="42.92" y="307.66" width="11.03" height="8.85" fill="#7c9cd0"/><rect x="53.65" y="307.66" width="11.03" height="8.85" fill="#d5dff0"/><rect x="0.00" y="316.20" width="11.03" height="8.85" fill="#f45a66"/><rect x="10.73" y="316.20" width="11.03" height="8.85" fill="#7698cd"/><rect x="21.46" y="316.20" width="11.03" height="8.85" fill="#5b87c2"/><rect x="32.19" y="316.20" width="11.03" height="8.85" fill="#fdd9de"/><rect x="42.92" y="316.20" width="11.03" height="8.85" fill="#fee2e6"/><rect x="53.65" y="316.20" width="11.03" height="8.85" fill="#87a3d4"/><rect x="0.00" y="324.75" width="11.03" height="8.85" fill="#f3404d"/><rect x="10.73" y="324.75" width="11.03" height="8.85" fill="#82a0d2"/><rect x="21.46" y="324.75" width="11.03" height="8.85" fill="#7c9cd0"/><rect x="32.19" y="324.75" width="11.03" height="8.85" fill="#fdd9de"/><rect x="42.92" y="324.75" width="11.03" height="8.85" fill="#93acd8"/><rect x="53.65" y="324.75" width="11.03" height="8.85" fill="#7c9cd0"/><rect x="0.00" y="333.29" width="11.03" height="8.85" fill="#f3404d"/><rect x="10.73" y="333.29" width="11.03" height="8.85" fill="#c9d6ec"/><rect x="21.46" y="333.29" width="11.03" height="8.85" fill="#7c9cd0"/><rect x="32.19" y="333.29" width="11.03" height="8.85" fill="#fdd9de"/><rect x="42.92" y="333.29" width="11.03" height="8.85" fill="#82a0d2"/><rect x="53.65" y="333.29" width="11.03" height="8.85" fill="#7c9cd0"/><rect x="0.00" y="341.84" width="11.03" height="8.85" fill="#f34552"/><rect x="10.73" y="341.84" width="11.03" height="8.85" fill="#82a0d2"/><rect x="21.46" y="341.84" width="11.03" height="8.85" fill="#ffffff"/><rect x="32.19" y="341.84" width="11.03" height="8.85" fill="#ffffff"/><rect x="42.92" y="341.84" width="11.03" height="8.85" fill="#dbe3f2"/><rect x="53.65" y="341.84" width="11.03" height="8.85" fill="#6c92c9"/><rect x="0.00" y="350.39" width="11.03" height="8.85" fill="#f34552"/><rect x="10.73" y="350.39" width="11.03" height="8.85" fill="#87a3d4"/><rect x="21.46" y="350.39" width="11.03" height="8.85" fill="#87a3d4"/><rect x="32.19" y="350.39" width="11.03" height="8.85" fill="#ffffff"/><rect x="42.92" y="350.39" width="11.03" height="8.85" fill="#f3f6fb"/><rect x="53.65" y="350.39" width="11.03" height="8.85" fill="#82a0d2"/><rect x="0.00" y="358.93" width="11.03" height="8.85" fill="#f34552"/><rect x="10.73" y="358.93" width="11.03" height="8.85" fill="#c3d1ea"/><rect x="21.46" y="358.93" width="11.03" height="8.85" fill="#c9d6ec"/><rect x="32.19" y="358.93" width="11.03" height="8.85" fill="#ffffff"/><rect x="42.92" y="358.93" width="11.03" height="8.85" fill="#ffffff"/><rect x="53.65" y="358.93" width="11.03" height="8.85" fill="#7698cd"/><rect x="0.00" y="367.48" width="11.03" height="8.85" fill="#f44f5c"/><rect x="10.73" y="367.48" width="11.03" height="8.85" fill="#6c92c9"/><rect x="21.46" y="367.48" width="11.03" height="8.85" fill="#7698cd"/><rect x="32.19" y="367.48" width="11.03" height="8.85" fill="#f77c88"/><rect x="42.92" y="367.48" width="11.03" height="8.85" fill="#e7edf6"/><rect x="53.65" y="367.48" width="11.03" height="8.85" fill="#93acd8"/><rect x="0.00" y="376.02" width="11.03" height="8.85" fill="#f44a57"/><rect x="10.73" y="376.02" width="11.03" height="8.85" fill="#b7c8e5"/><rect x="21.46" y="376.02" width="11.03" height="8.85" fill="#7698cd"/><rect x="32.19" y="376.02" width="11.03" height="8.85" fill="#fcc6cd"/><rect x="42.92" y="376.02" width="11.03" height="8.85" fill="#ffffff"/><rect x="53.65" y="376.02" width="11.03" height="8.85" fill="#6c92c9"/><rect x="0.00" y="384.57" width="11.03" height="8.85" fill="#f44a57"/><rect x="10.73" y="384.57" width="11.03" height="8.85" fill="#7698cd"/><rect x="21.46" y="384.57" width="11.03" height="8.85" fill="#7698cd"/><rect x="32.19" y="384.57" width="11.03" height="8.85" fill="#ffffff"/><rect x="42.92" y="384.57" width="11.03" height="8.85" fill="#ffffff"/><rect x="53.65" y="384.57" width="11.03" height="8.85" fill="#e7edf6"/><rect x="0.00" y="393.12" width="11.03" height="8.85" fill="#f34552"/><rect x="10.73" y="393.12" width="11.03" height="8.85" fill="#7698cd"/><rect x="21.46" y="393.12" width="11.03" height="8.85" fill="#dbe3f2"/><rect x="32.19" y="393.12" width="11.03" height="8.85" fill="#e7edf6"/><rect x="42.92" y="393.12" width="11.03" height="8.85" fill="#ffffff"/><rect x="53.65" y="393.12" width="11.03" height="8.85" fill="#82a0d2"/><rect x="0.00" y="401.66" width="11.03" height="8.85" fill="#f34552"/><rect x="10.73" y="401.66" width="11.03" height="8.85" fill="#7698cd"/><rect x="21.46" y="401.66" width="11.03" height="8.85" fill="#dbe3f2"/><rect x="32.19" y="401.66" width="11.03" height="8.85" fill="#e1e8f4"/><rect x="42.92" y="401.66" width="11.03" height="8.85" fill="#fef1f3"/><rect x="53.65" y="401.66" width="11.03" height="8.85" fill="#87a3d4"/><rect x="0.00" y="410.21" width="11.03" height="8.85" fill="#f55f6b"/><rect x="10.73" y="410.21" width="11.03" height="8.85" fill="#fee7ea"/><rect x="21.46" y="410.21" width="11.03" height="8.85" fill="#edf1f9"/><rect x="32.19" y="410.21" width="11.03" height="8.85" fill="#2c6bac"/><rect x="42.92" y="410.21" width="11.03" height="8.85" fill="#ffffff"/><rect x="53.65" y="410.21" width="11.03" height="8.85" fill="#dbe3f2"/><rect x="0.00" y="418.75" width="11.03" height="8.85" fill="#f55f6b"/><rect x="10.73" y="418.75" width="11.03" height="8.85" fill="#ffffff"/><rect x="21.46" y="418.75" width="11.03" height="8.85" fill="#dbe3f2"/><rect x="32.19" y="418.75" width="11.03" height="8.85" fill="#b1c3e3"/><rect x="42.92" y="418.75" width="11.03" height="8.85" fill="#ffffff"/><rect x="53.65" y="418.75" width="11.03" height="8.85" fill="#4b7dbc"/><rect x="0.00" y="427.30" width="11.03" height="8.85" fill="#f56470"/><rect x="10.73" y="427.30" width="11.03" height="8.85" fill="#fdd9de"/><rect x="21.46" y="427.30" width="11.03" height="8.85" fill="#f994a0"/><rect x="32.19" y="427.30" width="11.03" height="8.85" fill="#6c92c9"/><rect x="42.92" y="427.30" width="11.03" height="8.85" fill="#7195cb"/><rect x="53.65" y="427.30" width="11.03" height="8.85" fill="#6c92c9"/><rect x="0.00" y="435.85" width="11.03" height="8.85" fill="#f56470"/><rect x="10.73" y="435.85" width="11.03" height="8.85" fill="#fee2e6"/><rect x="21.46" y="435.85" width="11.03" height="8.85" fill="#ffffff"/><rect x="32.19" y="435.85" width="11.03" height="8.85" fill="#6c92c9"/><rect x="42.92" y="435.85" width="11.03" height="8.85" fill="#7195cb"/><rect x="53.65" y="435.85" width="11.03" height="8.85" fill="#668ec7"/><rect x="0.00" y="444.39" width="11.03" height="8.85" fill="#faa0ac"/><rect x="10.73" y="444.39" width="11.03" height="8.85" fill="#faa0ac"/><rect x="21.46" y="444.39" width="11.03" height="8.85" fill="#fddee2"/><rect x="32.19" y="444.39" width="11.03" height="8.85" fill="#bdcce7"/><rect x="42.92" y="444.39" width="11.03" height="8.85" fill="#d5dff0"/><rect x="53.65" y="444.39" width="11.03" height="8.85" fill="#3671b2"/><rect x="0.00" y="452.94" width="11.03" height="8.85" fill="#fbb3bd"/><rect x="10.73" y="452.94" width="11.03" height="8.85" fill="#fcd0d6"/><rect x="21.46" y="452.94" width="11.03" height="8.85" fill="#fee2e6"/><rect x="32.19" y="452.94" width="11.03" height="8.85" fill="#fef1f3"/><rect x="42.92" y="452.94" width="11.03" height="8.85" fill="#87a3d4"/><rect x="53.65" y="452.94" width="11.03" height="8.85" fill="#3671b2"/></svg>
<div class="lb" style="left:361.8px;top:79.50px">"mannosidase, alpha, class 2A"</div>
<div class="lb" style="left:361.8px;top:88.06px">TNF alpha-induced protein 3</div>
<div class="lb" style="left:361.8px;top:96.62px">synaptobrevin 2</div>
<div class="lb" style="left:361.8px;top:105.19px">KIAA0102 gene product</div>
<div class="lb" style="left:361.8px;top:113.75px">phosphoserine aminotransferase</div>
<div class="lb" style="left:361.8px;top:122.31px">tumor rejection antigen (gp96)</div>
<div class="lb" style="left:361.8px;top:130.87px">eIF-1 alpha 1-like 14</div>
<div class="lb" style="left:361.8px;top:139.43px">Sec61 gamma</div>
<div class="lb" style="left:361.8px;top:148.00px">chromosome 12 reading frame 8</div>
<div class="lb" style="left:361.8px;top:156.56px">nardilysin (N-arginine dibasic convertase)</div>
<div class="lb" style="left:361.8px;top:165.12px">B-cell translocation gene 1</div>
<div class="lb" style="left:361.8px;top:173.68px">Cell-specific Lyn substrate 1</div>
<div class="lb" style="left:361.8px;top:182.24px">cytochrome c oxidase</div>
<div class="lb" style="left:361.8px;top:190.81px">ribosomal protein L12</div>
<div class="lb" style="left:361.8px;top:199.37px">vimentin</div>
<div class="lb" style="left:361.8px;top:207.93px">talin 1</div>
<div class="lb" style="left:361.8px;top:216.49px">galectin 1</div>
<div class="lb" style="left:361.8px;top:225.05px">malate dehydrogenase 1</div>
<div class="lb" style="left:361.8px;top:233.62px">GNAS complex locus</div>
<div class="lb" style="left:361.8px;top:242.18px">myristoylated alanine-rich PKC substrate</div>
<div class="lb" style="left:361.8px;top:250.74px">v-raf-1</div>
<div class="lb" style="left:361.8px;top:259.30px">&nbsp;TATA box BP-associated factor</div>
<div class="lb" style="left:361.8px;top:267.86px">tyrosine 3-monooxygenase protein</div>
<div class="lb" style="left:361.8px;top:276.43px">farnesyl diphosphate synthase</div>
<div class="lb" style="left:361.8px;top:284.99px">B-cell associated protein</div>
<div class="lb" style="left:361.8px;top:293.55px">lymphocyte-specific protein 1</div>
<div class="lb" style="left:361.8px;top:302.11px">"ATP synthase, mitochondrial "</div>
<div class="lb" style="left:361.8px;top:310.67px">"ATP synthase, mitochondrial F1 complex"</div>
<div class="lb" style="left:361.8px;top:319.24px">WW domain binding protein 2</div>
<div class="lb" style="left:361.8px;top:327.80px">"solute carrier family 25, member 7 "</div>
<div class="lb" style="left:361.8px;top:336.36px">CD48 antigen (B-cell membrane protein)</div>
<div class="lb" style="left:361.8px;top:344.92px">"solute carrier family 25, member 6"</div>
<div class="lb" style="left:361.8px;top:353.48px">basic transcription factor 3</div>
<div class="lb" style="left:361.8px;top:362.05px">"Niemann-Pick disease, type C2 gene"</div>
<div class="lb" style="left:361.8px;top:370.61px">gamma-glutamyltransferase 2</div>
<div class="lb" style="left:361.8px;top:379.17px">Ca2+-promoted Ras inactivator</div>
<div class="lb" style="left:361.8px;top:387.73px">dendritic cell protein</div>
<div class="lb" style="left:361.8px;top:396.29px">L-3-hydroxyacyl-Coenzyme A</div>
<div class="lb" style="left:361.8px;top:404.86px">"coatomer protein complex, subunit epsilon"</div>
<div class="lb" style="left:361.8px;top:413.42px">"MHC, class I, F"</div>
<div class="lb" style="left:361.8px;top:421.98px">heat shock 90kD protein rep</div>
<div class="lb" style="left:361.8px;top:430.54px">"ATPase, vacuolar, 14 kD"</div>
<div class="lb" style="left:361.8px;top:439.10px">Rho GDP dissociation inhibitor beta</div>
<div class="lb" style="left:361.8px;top:447.67px">antigen identified by MoAb Ki-67</div>
<div class="lb" style="left:361.8px;top:456.23px">"tubulin, beta"</div>
<div class="lb" style="left:361.8px;top:464.79px">"eIF-3, subunit 5 "</div>
<div class="lb" style="left:361.8px;top:473.35px">ADP-ribosylation factor-like</div>
<div class="lb" style="left:361.8px;top:481.91px">MORF-related gene X</div>
<div class="lb" style="left:361.8px;top:490.48px">actin related protein 2/3 complex</div>
<div class="lb" style="left:361.8px;top:499.04px">IMAGE-954213</div>
<div class="lb" style="left:361.8px;top:507.60px">poly(rC) binding protein 2</div>
<div class="lb" style="left:361.8px;top:516.16px">poly(rC) binding protein 2rep</div>
<div class="lb" style="left:361.8px;top:524.72px">glyoxalase I</div>
<div class="lb" style="left:361.8px;top:533.29px">solute carrier family 29</div>
<div class="lg" style="left:286.50px;top:550.5px;width:16.40px;height:8.3px;background:#1f5c9e"></div>
<div class="lg" style="left:302.70px;top:550.5px;width:16.40px;height:8.3px;background:#6a90cc"></div>
<div class="lg" style="left:318.90px;top:550.5px;width:16.40px;height:8.3px;background:#f596a6"></div>
<div class="lg" style="left:335.10px;top:550.5px;width:16.40px;height:8.3px;background:#f03444"></div>
<div class="lt" style="left:294.60px;top:559.4px">-3.0</div>
<div class="lt" style="left:310.80px;top:559.4px">-1.0</div>
<div class="lt" style="left:327.00px;top:559.4px">1.0</div>
<div class="lt" style="left:343.20px;top:559.4px">3.0</div>
</body></html>
